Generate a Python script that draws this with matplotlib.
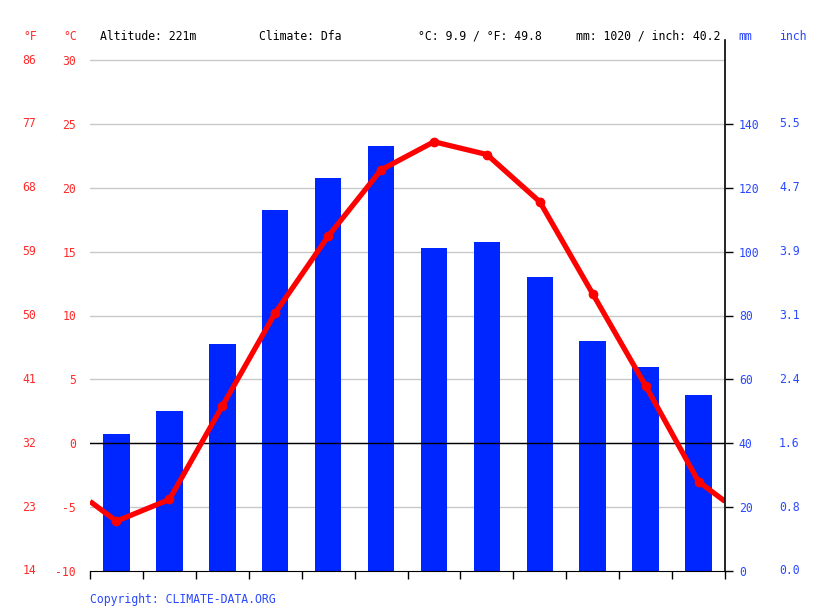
import numpy as np
import matplotlib
matplotlib.use("Agg")
import matplotlib.pyplot as plt
import matplotlib.transforms as mtransforms

plt.rcParams['font.family'] = ['DejaVu Sans Mono']

months = ["01", "02", "03", "04", "05", "06", "07", "08", "09", "10", "11", "12"]
temp_c = [-6.1, -4.4, 2.9, 10.2, 16.2, 21.4, 23.6, 22.6, 18.9, 11.7, 4.5, -3.0]
precip_mm = [43, 50, 71, 113, 123, 133, 101, 103, 92, 72, 64, 55]
c_ticks = [-10, -5, 0, 5, 10, 15, 20, 25, 30]
f_labels = ["14", "23", "32", "41", "50", "59", "68", "77", "86"]
mm_ticks = [0, 20, 40, 60, 80, 100, 120, 140]
inch_labels = ["0.0", "0.8", "1.6", "2.4", "3.1", "3.9", "4.7", "5.5"]

RED = "#ff0000"
TXT_RED = "#ff2a2a"
BLUE = "#0026ff"
TXT_BLUE = "#2a48ff"
FS = 8.3

fig = plt.figure(figsize=(8.15, 6.11), dpi=100)
W, H = 815, 611
ax_p = fig.add_axes([90 / W, 40 / H, 635 / W, 531 / H])
ax_t = ax_p.twinx()

x = np.arange(12)
t_top = -10 + 531 / 12.775
ax_t.set_ylim(-10, t_top)
ax_p.set_ylim(0, (t_top + 10) * 4)
ax_p.set_xlim(-0.5, 11.5)

# bars
ax_p.bar(x, precip_mm, width=0.5, color=BLUE, zorder=2)

# grid (in precip axis so it sits under the bars)
grid_mm = list(range(20, 161, 20))
for g in grid_mm:
    ax_p.axhline(g, color="#c8c8c8", lw=1, zorder=1)

# temperature line, wrapped to the edges
edge = (temp_c[-1] + temp_c[0]) / 2
xs = np.concatenate([[-0.5], x, [11.5]])
ys = np.concatenate([[edge], temp_c, [edge]])
ax_t.axhline(0, color="black", lw=1, zorder=3)
ax_t.plot(xs, ys, color=RED, lw=3.8, zorder=4, solid_capstyle="butt")
ax_t.plot(x, temp_c, "o", color=RED, ms=6, zorder=5)

# spines
for a in (ax_p, ax_t):
    for s in ("top", "left", "right"):
        a.spines[s].set_visible(False)
ax_t.spines["bottom"].set_visible(False)
ax_p.spines["bottom"].set_color("black")
ax_p.spines["bottom"].set_zorder(6)

# right spine extended up to the header
fig.add_artist(plt.Line2D([725 / W, 725 / W], [40 / H, 1 - 40 / H], color="black", lw=1.2))

# left (°C) labels
ax_t.yaxis.tick_left()
ax_t.set_yticks(c_ticks)
ax_t.set_yticklabels([str(c) for c in c_ticks], color=TXT_RED, fontsize=FS)
ax_t.tick_params(axis="y", length=0, pad=10)

# °F labels
trans_f = mtransforms.blended_transform_factory(fig.transFigure, ax_t.transData)
for c, f in zip(c_ticks, f_labels):
    ax_t.text(36 / W, c, f, transform=trans_f, ha="right", va="center",
              color=TXT_RED, fontsize=FS)

# right (mm) labels
ax_p.yaxis.tick_right()
ax_p.set_yticks(mm_ticks)
ax_p.set_yticklabels([str(m) for m in mm_ticks], color=TXT_BLUE, fontsize=FS)
ax_p.tick_params(axis="y", length=6, width=1, pad=4, direction="out")

trans_i = mtransforms.blended_transform_factory(fig.transFigure, ax_p.transData)
for m, lab in zip(mm_ticks, inch_labels):
    ax_p.text(779 / W, m, lab, transform=trans_i, ha="left", va="center",
              color=TXT_BLUE, fontsize=FS)

# months
ax_p.set_xticks(x)
ax_p.set_xticklabels(months, color="#333333", fontsize=FS)
ax_p.set_xticks(np.arange(-0.5, 12, 1), minor=True)
ax_p.tick_params(axis="x", which="major", length=0, pad=7)
ax_p.tick_params(axis="x", which="minor", length=6, width=1, direction="out")
ax_t.set_xticks([])

# header
hy = 1 - 36 / H
fig.text(30 / W, hy, "°F", color=TXT_RED, fontsize=FS, ha="center", va="center")
fig.text(70 / W, hy, "°C", color=TXT_RED, fontsize=FS, ha="center", va="center")
fig.text(100 / W, hy, "Altitude: 221m", color="black", fontsize=FS, ha="left", va="center")
fig.text(259 / W, hy, "Climate: Dfa", color="black", fontsize=FS, ha="left", va="center")
fig.text(418 / W, hy, "°C: 9.9 / °F: 49.8", color="black", fontsize=FS, ha="left", va="center")
fig.text(576 / W, hy, "mm: 1020 / inch: 40.2", color="black", fontsize=FS, ha="left", va="center")
fig.text(745 / W, hy, "mm", color=TXT_BLUE, fontsize=FS, ha="center", va="center")
fig.text(793 / W, hy, "inch", color=TXT_BLUE, fontsize=FS, ha="center", va="center")

fig.text(90 / W, 1 - 599 / H, "Copyright: CLIMATE-DATA.ORG", color=TXT_BLUE,
         fontsize=FS, ha="left", va="center")

fig.savefig("out.png", dpi=100)
